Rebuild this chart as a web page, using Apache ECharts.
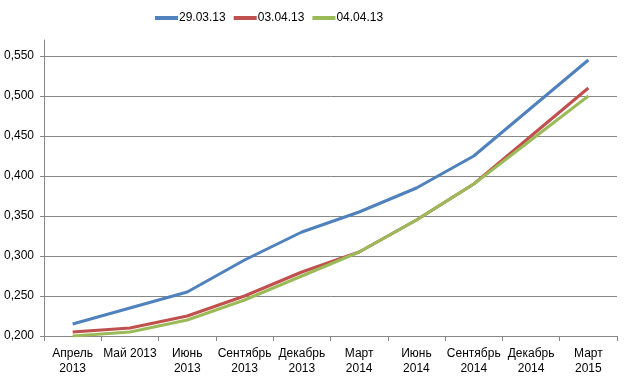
<!DOCTYPE html>
<html><head><meta charset="utf-8">
<script src="https://cdn.jsdelivr.net/npm/echarts@6/dist/echarts.min.js"></script>
<style>html,body{margin:0;padding:0;background:#fff}#c{width:624px;height:380px}</style>
</head><body><div id="c"></div>
<script>
var categories = ["Апрель\n2013","Май 2013","Июнь\n2013","Сентябрь\n2013","Декабрь\n2013","Март\n2014","Июнь\n2014","Сентябрь\n2014","Декабрь\n2014","Март\n2015"];
var seriesNames = ["29.03.13","03.04.13","04.04.13"];
var s1 = [0.215,0.235,0.255,0.295,0.330,0.355,0.385,0.425,0.485,0.545];
var s2 = [0.205,0.210,0.225,0.250,0.280,0.305,0.345,0.390,0.450,0.510];
var s3 = [0.200,0.205,0.220,0.245,0.275,0.305,0.345,0.390,0.445,0.500];
var colors = ["#4F81BD","#C0504D","#9BBB59"];
var font = "Liberation Sans";
var chart = echarts.init(document.getElementById('c'));
function mk(name, data, color){
  return {name:name,type:'line',data:data,symbol:'none',smooth:false,
    lineStyle:{color:color,width:3},itemStyle:{color:color}};
}
chart.setOption({
  animation:false,
  legend:{top:7,left:150,itemWidth:23,itemHeight:4,itemGap:8,icon:'rect',
    textStyle:{fontFamily:font,fontSize:12,color:'#000',padding:[0,0,0,-4]},
    data:seriesNames},
  grid:{left:44,right:7,top:40,bottom:44,containLabel:false},
  xAxis:{type:'category',data:categories,boundaryGap:true,
    axisLine:{lineStyle:{color:'#868686',width:1}},
    axisTick:{show:true,length:5,lineStyle:{color:'#868686'}},
    axisLabel:{fontFamily:font,fontSize:12,color:'#000',lineHeight:15,margin:10,interval:0,verticalAlign:'top'}},
  yAxis:{type:'value',min:0.2,max:0.57,interval:0.05,
    axisLine:{show:true,lineStyle:{color:'#868686'}},
    axisTick:{show:true,length:4,lineStyle:{color:'#868686'}},
    splitLine:{show:true,showMaxLine:false,lineStyle:{color:'#868686',width:1}},
    axisLabel:{fontFamily:font,fontSize:12,color:'#000',margin:10,showMaxLabel:false,
      formatter:function(v){return v.toFixed(3).replace('.',',');}}},
  series:[mk(seriesNames[0],s1,colors[0]),mk(seriesNames[1],s2,colors[1]),mk(seriesNames[2],s3,colors[2])]
});
</script></body></html>
